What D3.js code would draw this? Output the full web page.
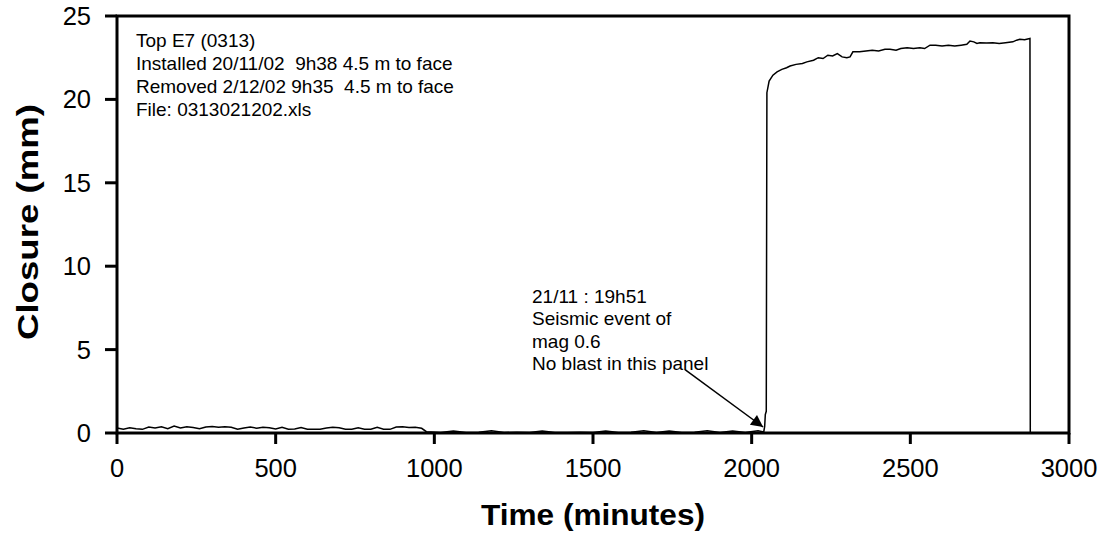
<!DOCTYPE html>
<html>
<head>
<meta charset="utf-8">
<script src="https://cdn.jsdelivr.net/npm/d3@7"></script>
<style>
  body { margin: 0; background: #fff; }
  svg { display: block; font-family: Arial, "Liberation Sans", sans-serif; }
  .tick-label { font-size: 25.5px; fill: #000; }
  .axis-title { font-size: 30px; font-weight: bold; fill: #000; }
  .note { font-size: 19px; fill: #000; white-space: pre; }
</style>
</head>
<body>
<svg id="chart" width="1109" height="553"></svg>
<script>
// time in minutes, closure in mm
const timeBefore = [0, 20, 40, 60, 80, 100, 120, 140, 160, 180, 200, 220, 240, 260, 280, 300, 320, 340, 360, 380,
  400, 420, 440, 460, 480, 500, 520, 540, 560, 580, 600, 620, 640, 660, 680, 700, 720, 740, 760, 780,
  800, 820, 840, 860, 880, 900, 920, 940, 960];
const closureBefore = [0.30, 0.22, 0.32, 0.25, 0.22, 0.36, 0.30, 0.37, 0.26, 0.42, 0.30, 0.38, 0.33, 0.25, 0.36, 0.39, 0.35, 0.37, 0.34, 0.22,
  0.30, 0.36, 0.29, 0.35, 0.31, 0.24, 0.34, 0.22, 0.24, 0.33, 0.22, 0.22, 0.22, 0.30, 0.35, 0.31, 0.22, 0.22, 0.31, 0.22,
  0.22, 0.34, 0.22, 0.22, 0.36, 0.38, 0.33, 0.35, 0.28];

const timeQuiet = [975, 1020, 1060, 1100, 1140, 1180, 1220, 1260, 1300, 1340, 1380, 1420, 1460, 1500, 1540, 1580,
  1620, 1660, 1700, 1740, 1780, 1820, 1860, 1900, 1940, 1980, 2020, 2038];
const closureQuiet = [0.08, 0.03, 0.12, 0.03, 0.04, 0.13, 0.03, 0.05, 0.03, 0.12, 0.03, 0.03, 0.05, 0.03, 0.12, 0.03,
  0.04, 0.13, 0.03, 0.12, 0.03, 0.05, 0.13, 0.03, 0.12, 0.03, 0.13, 0.06];

const timeAfter = [2041, 2043, 2046, 2048, 2055, 2067, 2080, 2095, 2110, 2121, 2140, 2160, 2174, 2195, 2210, 2225,
  2240, 2255, 2270, 2285, 2300, 2310, 2319, 2340, 2360, 2380, 2400, 2420, 2436, 2455, 2470, 2490, 2510, 2530,
  2545, 2562, 2580, 2600, 2620, 2640, 2660, 2678, 2688, 2700, 2710, 2719, 2740, 2760, 2780, 2800, 2823, 2835,
  2845, 2860, 2877, 2878];
const closureAfter = [0.40, 1.10, 1.30, 20.40, 21.10, 21.45, 21.65, 21.80, 21.90, 22.00, 22.10, 22.15, 22.25, 22.35, 22.50, 22.45,
  22.65, 22.60, 22.75, 22.55, 22.50, 22.55, 22.85, 22.85, 22.90, 22.95, 22.90, 23.00, 23.00, 22.95, 23.05, 23.10, 23.05, 23.10,
  23.05, 23.25, 23.25, 23.20, 23.25, 23.20, 23.25, 23.30, 23.50, 23.45, 23.35, 23.40, 23.38, 23.40, 23.35, 23.40, 23.45, 23.55,
  23.60, 23.58, 23.65, 0];

const xTicks = [0, 500, 1000, 1500, 2000, 2500, 3000];
const yTicks = [0, 5, 10, 15, 20, 25];

const infoLines = ["Top E7 (0313)", "Installed 20/11/02  9h38 4.5 m to face",
  "Removed 2/12/02 9h35  4.5 m to face", "File: 0313021202.xls"];
const eventLines = ["21/11 : 19h51", "Seismic event of", "mag 0.6", "No blast in this panel"];
const arrowFrom = [1790, 3.8];
const arrowTo = [2036, 0.36];

const series = timeBefore.map((t, i) => [t, closureBefore[i]])
  .concat(timeQuiet.map((t, i) => [t, closureQuiet[i]]))
  .concat(timeAfter.map((t, i) => [t, closureAfter[i]]));

const svg = d3.select("#chart");
const margin = { left: 117, right: 40, top: 16, bottom: 120 };
const width = 1109, height = 553;

const x = d3.scaleLinear().domain([0, 3000]).range([margin.left, width - margin.right]);
const y = d3.scaleLinear().domain([0, 25]).range([height - margin.bottom, margin.top]);

svg.append("defs").append("marker")
  .attr("id", "head")
  .attr("viewBox", "0 0 10 10")
  .attr("refX", 10).attr("refY", 5)
  .attr("markerWidth", 10).attr("markerHeight", 8)
  .attr("markerUnits", "strokeWidth")
  .attr("orient", "auto")
  .append("path").attr("d", "M0,0 L10,5 L0,10 Z").attr("fill", "#000");

// data line
svg.append("path")
  .datum(series)
  .attr("fill", "none")
  .attr("stroke", "#000")
  .attr("stroke-width", 1.5)
  .attr("d", d3.line().x(d => x(d[0])).y(d => y(d[1])));

// plot frame
svg.append("rect")
  .attr("x", x(0)).attr("y", y(25))
  .attr("width", x(3000) - x(0)).attr("height", y(0) - y(25))
  .attr("fill", "none").attr("stroke", "#000").attr("stroke-width", 3);

// x ticks
svg.selectAll(".xt").data(xTicks).enter().append("line")
  .attr("x1", d => x(d)).attr("x2", d => x(d))
  .attr("y1", y(0)).attr("y2", y(0) + 11)
  .attr("stroke", "#000").attr("stroke-width", 3);
svg.selectAll(".xl").data(xTicks).enter().append("text")
  .attr("class", "tick-label")
  .attr("x", d => x(d)).attr("y", y(0) + 44)
  .attr("text-anchor", "middle")
  .text(d => d);

// y ticks
svg.selectAll(".yt").data(yTicks).enter().append("line")
  .attr("x1", x(0) - 12).attr("x2", x(0))
  .attr("y1", d => y(d)).attr("y2", d => y(d))
  .attr("stroke", "#000").attr("stroke-width", 3);
svg.selectAll(".yl").data(yTicks).enter().append("text")
  .attr("class", "tick-label")
  .attr("x", x(0) - 26).attr("y", d => y(d) + 9)
  .attr("text-anchor", "end")
  .text(d => d);

// axis titles
svg.append("text")
  .attr("class", "axis-title")
  .attr("x", 593).attr("y", 525)
  .attr("text-anchor", "middle")
  .attr("textLength", 224).attr("lengthAdjust", "spacingAndGlyphs")
  .text("Time (minutes)");
svg.append("text")
  .attr("class", "axis-title")
  .attr("transform", `translate(38,222) rotate(-90)`)
  .attr("text-anchor", "middle")
  .attr("textLength", 236).attr("lengthAdjust", "spacingAndGlyphs")
  .text("Closure (mm)");

// info box
svg.append("g").selectAll("text").data(infoLines).enter().append("text")
  .attr("class", "note")
  .attr("x", 136).attr("y", (d, i) => 47 + i * 23)
  .text(d => d);

// event annotation
svg.append("g").selectAll("text").data(eventLines).enter().append("text")
  .attr("class", "note")
  .attr("x", 532).attr("y", (d, i) => 303 + i * 22.3)
  .text(d => d);

svg.append("line")
  .attr("x1", x(arrowFrom[0])).attr("y1", y(arrowFrom[1]))
  .attr("x2", x(arrowTo[0])).attr("y2", y(arrowTo[1]))
  .attr("stroke", "#000").attr("stroke-width", 1.5)
  .attr("marker-end", "url(#head)");
</script>
</body>
</html>
